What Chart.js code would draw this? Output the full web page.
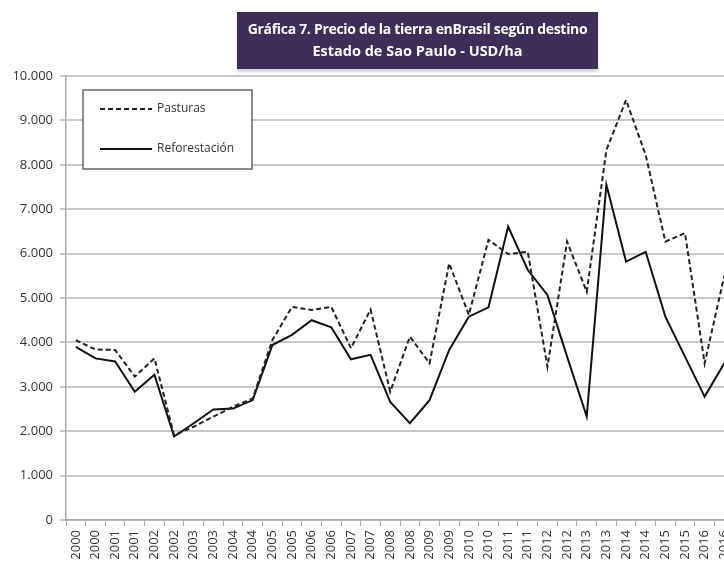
<!DOCTYPE html>
<html>
<head>
<meta charset="utf-8">
<script src="https://cdn.jsdelivr.net/npm/chart.js@4"></script>
<style>
  html, body { margin: 0; padding: 0; background: #fff; overflow: hidden; }
  #wrap { position: relative; width: 724px; height: 563px; overflow: hidden; }
  #box { position: absolute; left: 0; top: 0; width: 744px; height: 563px; }
  #title {
    position: absolute; left: 237px; top: 12px; width: 361px; height: 57px;
    background: #3e2d57; color: #fff; text-align: center; white-space: nowrap;
    font: bold 14px "Open Sans", sans-serif; letter-spacing: -0.3px;
    line-height: 22px; padding-top: 6px; box-sizing: border-box;
    box-shadow: 0 3px 2px #d8d8d8;
  }
  #title .l2 { letter-spacing: 0; font-size: 14.5px; }
</style>
</head>
<body>
<div id="wrap">
  <div id="box"><canvas id="chart" width="744" height="563"></canvas></div>
  <div id="title">Gráfica 7. Precio de la tierra enBrasil según destino<br><span class="l2">Estado de Sao Paulo - USD/ha</span></div>
</div>
<script>
const years = [2000, 2001, 2002, 2003, 2004, 2005, 2006, 2007, 2008,
               2009, 2010, 2011, 2012, 2013, 2014, 2015, 2016];
// two observations per year
const labels = years.flatMap(y => [String(y), String(y)]);

const pasturas = [4050, 3840, 3830, 3230, 3640, 1910, 2100, 2330, 2550, 2740,
                  4050, 4800, 4730, 4800, 3870, 4740, 2890, 4130, 3530, 5780,
                  4620, 6310, 5990, 6040, 3450, 6270, 5140, 8330, 9460, 8220,
                  6270, 6460, 3530, 5500];

const reforestacion = [3900, 3640, 3570, 2890, 3270, 1880, 2180, 2490, 2510, 2700,
                       3940, 4170, 4500, 4340, 3620, 3720, 2660, 2180, 2700, 3830,
                       4580, 4790, 6610, 5630, 5070, 3680, 2330, 7550, 5820, 6040,
                       4580, 3680, 2780, 3530];

const yTicks = [0, 1000, 2000, 3000, 4000, 5000, 6000, 7000, 8000, 9000, 10000];

const fmt = v => v.toLocaleString('de-DE');
const font = '"Open Sans", sans-serif';

const legendBox = {
  id: 'legendBox',
  afterDraw(chart) {
    const ctx = chart.ctx;
    ctx.save();
    ctx.fillStyle = '#fff';
    ctx.fillRect(83, 90, 169, 79);
    ctx.strokeStyle = '#666';
    ctx.lineWidth = 1.5;
    ctx.strokeRect(83, 90, 169, 79);
    const rows = [109, 149];
    chart.data.datasets.forEach((ds, i) => {
      const y = rows[i];
      ctx.strokeStyle = ds.borderColor;
      ctx.lineWidth = ds.borderWidth;
      ctx.setLineDash(ds.borderDash || []);
      ctx.beginPath();
      ctx.moveTo(100, y);
      ctx.lineTo(152, y);
      ctx.stroke();
      ctx.setLineDash([]);
      ctx.fillStyle = '#333';
      ctx.font = '12px ' + font;
      ctx.textBaseline = 'middle';
      ctx.fillText(ds.label, 157, y);
    });
    ctx.restore();
  }
};

new Chart(document.getElementById('chart'), {
  type: 'line',
  data: {
    labels: labels,
    datasets: [
      {
        label: 'Pasturas',
        data: pasturas,
        borderColor: '#222',
        borderWidth: 2,
        borderDash: [5, 3],
        pointRadius: 0,
        tension: 0,
        fill: false
      },
      {
        label: 'Reforestación',
        data: reforestacion,
        borderColor: '#111',
        borderWidth: 2,
        pointRadius: 0,
        tension: 0,
        fill: false
      }
    ]
  },
  options: {
    responsive: false,
    animation: false,
    layout: { padding: { top: 76, right: 7, left: 0, bottom: 0 } },
    plugins: {
      legend: { display: false },
      title: { display: false },
      tooltip: { enabled: false }
    },
    scales: {
      x: {
        offset: true,
        grid: { offset: true, drawOnChartArea: false, drawTicks: true, tickLength: 6, color: '#aaa' },
        border: { color: '#aaa', width: 1.5 },
        ticks: {
          autoSkip: false, minRotation: 90, maxRotation: 90, padding: 4,
          color: '#333', font: { family: font, size: 13 }
        },
        afterFit: s => { s.height = 43; }
      },
      y: {
        min: 0,
        max: 10000,
        afterBuildTicks: s => { s.ticks = yTicks.map(v => ({ value: v })); },
        grid: { color: '#c8c8c8', lineWidth: 2, tickLength: 6 },
        border: { color: '#aaa', width: 1.5 },
        ticks: {
          padding: 7, color: '#333', font: { family: font, size: 13 },
          callback: v => fmt(v)
        },
        afterFit: s => { s.width = 66; }
      }
    }
  },
  plugins: [legendBox]
});
</script>
</body>
</html>
